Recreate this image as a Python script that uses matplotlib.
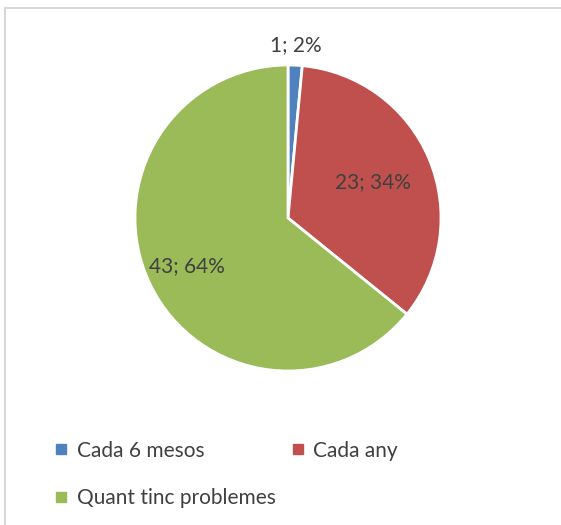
import numpy as np
import matplotlib
matplotlib.use('Agg')
import matplotlib.pyplot as plt
from matplotlib.lines import Line2D

plt.rcParams['font.family'] = ['Lato', 'DejaVu Sans']

categories = ['Cada 6 mesos', 'Cada any', 'Quant tinc problemes']
values = [1, 23, 43]
percents = ['2%', '34%', '64%']
colors = ['#4F81BD', '#C0504D', '#9BBB59']
label_r = [1.13, 0.60, 0.73]   # distancia de l'etiqueta des del centre
txt = '#404040'

fig = plt.figure(figsize=(5.61, 5.25), dpi=100)
# vora del gràfic
fig.add_artist(Line2D([5/561, 1], [1-8/525, 1-8/525], color='#D9D9D9', lw=1.5))
fig.add_artist(Line2D([5/561, 5/561], [0, 1-8/525], color='#D9D9D9', lw=1.5))

ax = fig.add_axes([(288-153)/561, (525-218-153)/525, 306/561, 306/525])
wedges, _ = ax.pie(values, colors=colors, startangle=90, counterclock=False,
                   wedgeprops=dict(edgecolor='white', linewidth=2))
ax.set_xlim(-1, 1)
ax.set_ylim(-1, 1)
ax.set_aspect('auto')

for w, v, p, r in zip(wedges, values, percents, label_r):
    a = np.deg2rad((w.theta1 + w.theta2) / 2)
    ax.text(r*np.cos(a), r*np.sin(a), f'{v}; {p}', ha='center', va='center',
            fontsize=15, color=txt, clip_on=False)

handles = [Line2D([], [], marker='s', ls='', color=c, markersize=7) for c in colors]
# ordre per files: la llegenda omple per columnes
order = [0, 2, 1]
fig.legend([handles[i] for i in order], [categories[i] for i in order],
           loc='upper left', bbox_to_anchor=(29/561, 1-422/525),
           ncol=2, frameon=False, fontsize=15, labelcolor=txt, handletextpad=0.1,
           columnspacing=0.4, labelspacing=1.3, handlelength=1.3)

fig.savefig('out.png', dpi=100)
